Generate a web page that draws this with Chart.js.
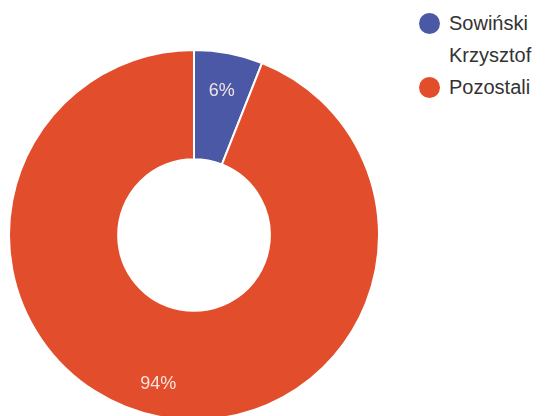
<!DOCTYPE html>
<html>
<head>
<meta charset="utf-8">
<script src="https://cdn.jsdelivr.net/npm/chart.js@4"></script>
<style>
  body { margin: 0; background: #fff; }
  #wrap { position: relative; width: 545px; height: 416px; overflow: hidden; font-family: "Liberation Sans", Arial, sans-serif; }
  #pie { position: absolute; left: 8px; top: 49px; }
  #legend { position: absolute; left: 418px; top: 7px; }
  .item { position: relative; padding-left: 31px; color: #333; font-size: 20px; line-height: 32px; }
  .dot { position: absolute; left: 1px; top: 6px; width: 21px; height: 21px; border-radius: 50%; }
</style>
</head>
<body>
<div id="wrap">
  <canvas id="pie" width="372" height="372"></canvas>
  <div id="legend"></div>
</div>
<script>
var labels = ['Sowiński Krzysztof', 'Pozostali'];
var legendLines = [['Sowiński', 'Krzysztof'], ['Pozostali']];
var values = [6, 94];
var colors = ['rgb(74, 88, 165)', 'rgb(226, 77, 44)'];

// legenda w HTML (tekst dzielony na linie jak w oryginale)
var legend = document.getElementById('legend');
for (var i = 0; i < labels.length; i++) {
    var item = document.createElement('div');
    item.className = 'item';
    var dot = document.createElement('span');
    dot.className = 'dot';
    dot.style.background = colors[i];
    item.appendChild(dot);
    item.appendChild(document.createTextNode(legendLines[i][0]));
    for (var j = 1; j < legendLines[i].length; j++) {
        item.appendChild(document.createElement('br'));
        item.appendChild(document.createTextNode(legendLines[i][j]));
    }
    legend.appendChild(item);
}

// procenty na wycinkach
var percentLabels = {
    id: 'percentLabels',
    afterDatasetsDraw: function (chart) {
        var ctx = chart.ctx;
        var data = chart.data.datasets[0].data;
        var total = data.reduce(function (a, b) { return a + b; }, 0);
        var meta = chart.getDatasetMeta(0);
        ctx.save();
        ctx.font = '18px "Liberation Sans", Arial, sans-serif';
        ctx.fillStyle = 'rgba(255, 240, 235, 0.92)';
        ctx.textAlign = 'center';
        ctx.textBaseline = 'middle';
        meta.data.forEach(function (arc, i) {
            var p = arc.getProps(['x', 'y', 'startAngle', 'endAngle', 'innerRadius', 'outerRadius'], true);
            var mid = (p.startAngle + p.endAngle) / 2;
            var r = p.innerRadius + (p.outerRadius - p.innerRadius) * 0.66;
            var txt = Math.round(data[i] / total * 100) + '%';
            ctx.fillText(txt, p.x + Math.cos(mid) * r - (i === 1 ? 8 : 0), p.y + Math.sin(mid) * r + (i === 1 ? 4 : 1));
        });
        ctx.restore();
    }
};

new Chart(document.getElementById('pie'), {
    type: 'doughnut',
    data: {
        labels: labels,
        datasets: [{
            data: values,
            backgroundColor: colors,
            borderColor: '#ffffff',
            borderWidth: 2
        }]
    },
    options: {
        responsive: false,
        animation: false,
        cutout: '41%',
        layout: { padding: 0 },
        plugins: {
            legend: { display: false },
            tooltip: { enabled: false }
        }
    },
    plugins: [percentLabels]
});
</script>
</body>
</html>
